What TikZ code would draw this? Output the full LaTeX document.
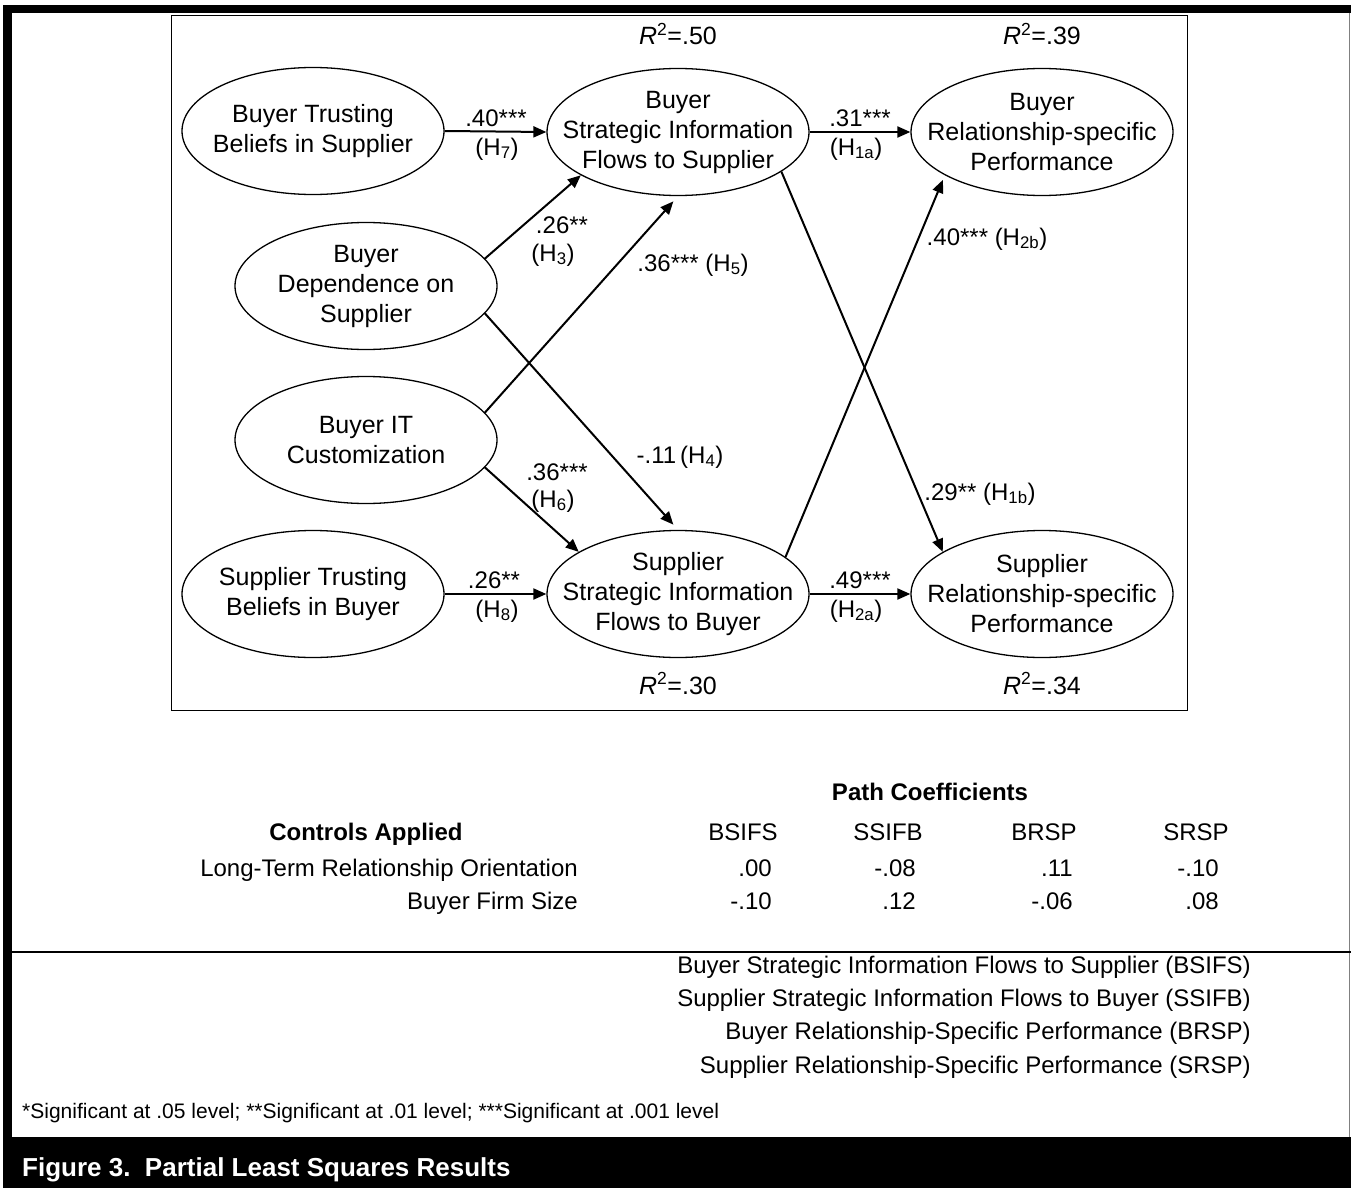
\documentclass[tikz,border=0pt]{standalone}
\usepackage{fontspec}
\setmainfont{Liberation Sans}
\usetikzlibrary{shapes.geometric,arrows.meta}
\begin{document}
\begin{tikzpicture}[x=1pt,y=-1pt,
  lat/.style={ellipse,draw,line width=1.3pt,minimum width=262pt,minimum height=127pt,inner xsep=-45pt,inner ysep=-20pt,align=center,font=\fontsize{25}{30}\selectfont},
  pth/.style={line width=2pt,-{Triangle[length=13pt,width=11pt]}},
  lab/.style={font=\fontsize{24}{28}\selectfont,inner sep=0pt,anchor=base},
  tab/.style={font=\fontsize{24}{28}\selectfont,inner sep=0pt},
  tabb/.style={font=\fontsize{24}{28}\selectfont\bfseries,inner sep=0pt,anchor=base},
]
\useasboundingbox (0,0) rectangle (1351,1188);
% frame
\fill[black] (3,5) rectangle (1351,13);
\fill[black] (3,5) rectangle (12,1188);
\fill[black] (3,1137) rectangle (1351,1188);
\draw[line width=0.8pt,gray] (1349,13) -- (1349,1137);
\draw[line width=2pt] (12,952) -- (1351,952);
\draw[line width=1pt] (171,16) rectangle (1187,710);

% latent variables
\node[lat] (btb) at (313,131) {Buyer Trusting\\Beliefs in Supplier};
\node[lat] (bsifs) at (678,132) {Buyer\\Strategic Information\\Flows to Supplier};
\node[lat] (brsp) at (1042,132) {Buyer\\Relationship-specific\\Performance};
\node[lat] (bd) at (366,286) {Buyer\\Dependence on\\Supplier};
\node[lat] (bit) at (366,440) {Buyer IT\\Customization};
\node[lat] (stb) at (313,594) {Supplier Trusting\\Beliefs in Buyer};
\node[lat] (ssifb) at (678,594) {Supplier\\Strategic Information\\Flows to Buyer};
\node[lat] (srsp) at (1042,594) {Supplier\\Relationship-specific\\Performance};

% R squared
\node[lab,font=\fontsize{25}{30}\selectfont] (r1) at (678,45) {\itshape R\upshape\textsuperscript{2}=.50};
\node[lab,font=\fontsize{25}{30}\selectfont] (r2) at (1042,45) {\itshape R\upshape\textsuperscript{2}=.39};
\node[lab,font=\fontsize{25}{30}\selectfont] (r3) at (678,694) {\itshape R\upshape\textsuperscript{2}=.30};
\node[lab,font=\fontsize{25}{30}\selectfont] (r4) at (1042,694) {\itshape R\upshape\textsuperscript{2}=.34};

% paths
\draw[pth] (btb.east) -- (bsifs.west);
\draw[pth] (bsifs.east) -- (brsp.west);
\draw[pth] (stb.east) -- (ssifb.west);
\draw[pth] (ssifb.east) -- (srsp.west);
\draw[pth] (bd.13.6) -- (bsifs.204);
\draw[pth,shorten >=7pt] (bit.13.5) -- (bsifs.south);
\draw[pth,shorten >=7pt] (bd.-13.6) -- (ssifb.north);
\draw[pth] (bit.-13) -- (ssifb.157.3);
\draw[pth] (bsifs.-21.5) -- (srsp.157.5);
\draw[pth,shorten >=5pt] (ssifb.19.9) -- (brsp.204.3);

% path labels
\node[lab] (c7) at (496,127) {.40***};
\node[lab] (h7) at (497,155) {(H\textsubscript{7})};
\node[lab] (c1a) at (860,127) {.31***};
\node[lab] (h1a) at (856,155) {(H\textsubscript{1a})};
\node[lab] (c3) at (562,233) {.26**};
\node[lab] (h3) at (553,261) {(H\textsubscript{3})};
\node[lab] (c5) at (693,271) {.36*** (H\textsubscript{5})};
\node[lab] (c4) at (680,463) {-.11\,(H\textsubscript{4})};
\node[lab] (c6) at (557,480) {.36***};
\node[lab] (h6) at (553,507) {(H\textsubscript{6})};
\node[lab] (c8) at (494,588) {.26**};
\node[lab] (h8) at (497,617) {(H\textsubscript{8})};
\node[lab] (c2a) at (860,588) {.49***};
\node[lab] (h2a) at (856,617) {(H\textsubscript{2a})};
\node[lab] (c2b) at (987,245) {.40*** (H\textsubscript{2b})};
\node[lab] (c1b) at (980,500) {.29** (H\textsubscript{1b})};

% table
\node[tabb] (pc) at (930,800) {Path Coefficients};
\node[tabb] (ca) at (366,840) {Controls Applied};
\node[tabb,font=\fontsize{24}{28}\selectfont] (hb1) at (743,840) {BSIFS};
\node[tabb,font=\fontsize{24}{28}\selectfont] (hb2) at (888,840) {SSIFB};
\node[tabb,font=\fontsize{24}{28}\selectfont] (hb3) at (1044,840) {BRSP};
\node[tabb,font=\fontsize{24}{28}\selectfont] (hb4) at (1196,840) {SRSP};
\node[tab,anchor=base east] (row1) at (578,876) {Long-Term Relationship Orientation};
\node[tab,anchor=base east] (v11) at (772,876) {.00};
\node[tab,anchor=base east] (v12) at (916,876) {-.08};
\node[tab,anchor=base east] (v13) at (1073,876) {.11};
\node[tab,anchor=base east] (v14) at (1219,876) {-.10};
\node[tab,anchor=base east] (row2) at (578,909) {Buyer Firm Size};
\node[tab,anchor=base east] (v21) at (772,909) {-.10};
\node[tab,anchor=base east] (v22) at (916,909) {.12};
\node[tab,anchor=base east] (v23) at (1073,909) {-.06};
\node[tab,anchor=base east] (v24) at (1219,909) {.08};

% legend
\node[tab,anchor=base east] (lg1) at (1251,973) {Buyer Strategic Information Flows to Supplier (BSIFS)};
\node[tab,anchor=base east] (lg2) at (1251,1006) {Supplier Strategic Information Flows to Buyer (SSIFB)};
\node[tab,anchor=base east] (lg3) at (1251,1039) {Buyer Relationship-Specific Performance (BRSP)};
\node[tab,anchor=base east] (lg4) at (1251,1073) {Supplier Relationship-Specific Performance (SRSP)};

% footnote and caption
\node[inner sep=0pt,anchor=base west,font=\fontsize{21}{24}\selectfont] (fn) at (22,1118) {*Significant at .05 level; **Significant at .01 level; ***Significant at .001 level};
\node[inner sep=0pt,anchor=base west,text=white,font=\fontsize{26}{30}\selectfont\bfseries] (cap) at (22,1176) {Figure 3.\ \ Partial Least Squares Results};
\end{tikzpicture}
\end{document}
